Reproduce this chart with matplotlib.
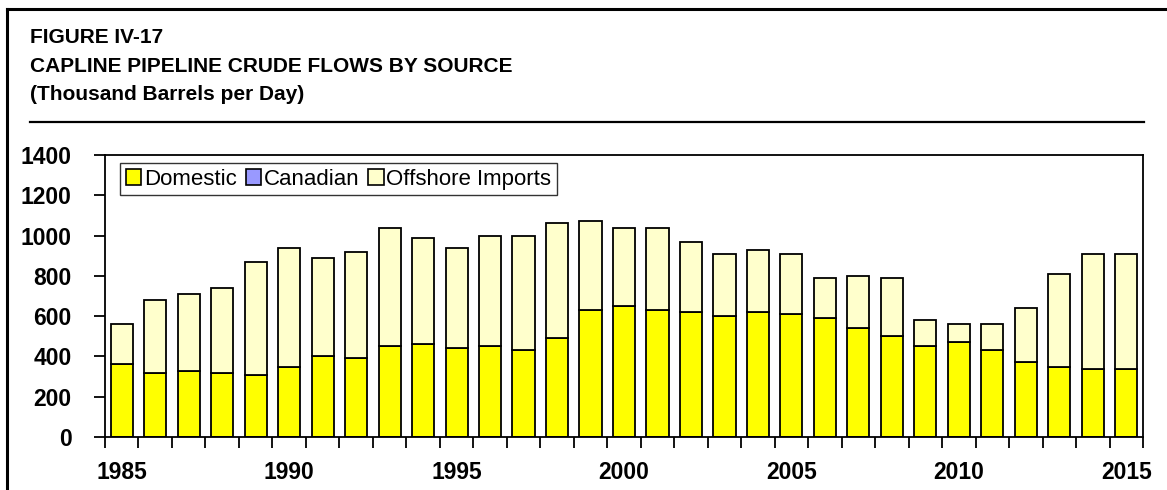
import numpy as np
import matplotlib
matplotlib.use('Agg')
import matplotlib.pyplot as plt
from matplotlib.lines import Line2D
from matplotlib.patches import Patch

plt.rcParams['font.family'] = ['Liberation Sans', 'DejaVu Sans']

# Data (thousand barrels per day)
years = list(range(1985, 2016))
domestic = [360, 320, 330, 320, 310, 350, 400, 390, 450, 460,
            440, 450, 430, 490, 630, 650, 630, 620, 600, 620,
            610, 590, 540, 500, 450, 470, 430, 370, 350, 340, 340]
canadian = [0] * 31
total = [560, 680, 710, 740, 870, 940, 890, 920, 1040, 990,
         940, 1000, 1000, 1060, 1070, 1040, 1040, 970, 910, 930,
         910, 790, 800, 790, 580, 560, 560, 640, 810, 910, 910]
offshore = [t - d - c for t, d, c in zip(total, domestic, canadian)]

series_names = ['Domestic', 'Canadian', 'Offshore Imports']
series_colors = ['#FFFF00', '#9999FF', '#FFFFCC']

W, H = 1167, 490
fig = plt.figure(figsize=(W / 100, H / 100), dpi=100, facecolor='white')

# outer frame (left and top) and rule under the title
fig.add_artist(Line2D([7 / W, 7 / W], [0, 1 - 9 / H], transform=fig.transFigure,
                      color='black', lw=2.2))
fig.add_artist(Line2D([7 / W, 1], [1 - 9 / H, 1 - 9 / H], transform=fig.transFigure,
                      color='black', lw=2.2))
fig.add_artist(Line2D([30 / W, 1144 / W], [1 - 122 / H, 1 - 122 / H],
                      transform=fig.transFigure, color='black', lw=1.6))

title_lines = ['FIGURE IV-17', 'CAPLINE PIPELINE CRUDE FLOWS BY SOURCE',
               '(Thousand Barrels per Day)']
for i, line in enumerate(title_lines):
    fig.text(30 / W, 1 - (43 + 28.5 * i) / H, line, fontsize=15, fontweight='bold',
             va='baseline', ha='left')

ax = fig.add_axes([105 / W, 1 - 437 / H, (1143 - 105) / W, (437 - 155) / H])

x = np.arange(len(years))
bw = 0.66
ax.bar(x, domestic, bw, color=series_colors[0], edgecolor='black', lw=1.3)
ax.bar(x, canadian, bw, bottom=domestic, color=series_colors[1], edgecolor='black', lw=0)
bottom2 = [d + c for d, c in zip(domestic, canadian)]
ax.bar(x, offshore, bw, bottom=bottom2, color=series_colors[2], edgecolor='black', lw=1.3)

ax.set_xlim(-0.5, len(years) - 0.5)
ax.set_ylim(0, 1400)
ax.set_yticks(range(0, 1401, 200))

# tick marks between categories, labels every 5 years
ax.set_xticks(np.arange(-0.5, len(years), 1.0))
ax.set_xticklabels([])
ax.tick_params(axis='x', which='major', direction='out', length=8, width=1.3)
lab_idx = [i for i, y in enumerate(years) if y % 5 == 0]
ax.set_xticks(lab_idx, minor=True)
ax.set_xticklabels([str(years[i]) for i in lab_idx], minor=True)
ax.tick_params(axis='x', which='minor', length=0, pad=17, labelsize=16.5)
for t in ax.get_xticklabels(minor=True):
    t.set_fontweight('bold')

ax.tick_params(axis='y', direction='out', length=8, width=1.3, pad=16, labelsize=16.5)
for t in ax.get_yticklabels():
    t.set_fontweight('bold')

for s in ax.spines.values():
    s.set_linewidth(1.3)
    s.set_color('black')

handles = [Patch(facecolor=c, edgecolor='black', lw=1.2) for c in series_colors]
leg = ax.legend(handles, series_names, loc='upper left', ncol=3, fontsize=16,
                frameon=True, fancybox=False, edgecolor='black',
                bbox_to_anchor=(15 / 1038, 1 - 8 / 282), borderaxespad=0,
                handlelength=0.7, handleheight=0.7, handletextpad=0.12,
                columnspacing=0.4, borderpad=0.25)
leg.get_frame().set_linewidth(1.0)

fig.savefig('out.png', dpi=100, facecolor='white')
